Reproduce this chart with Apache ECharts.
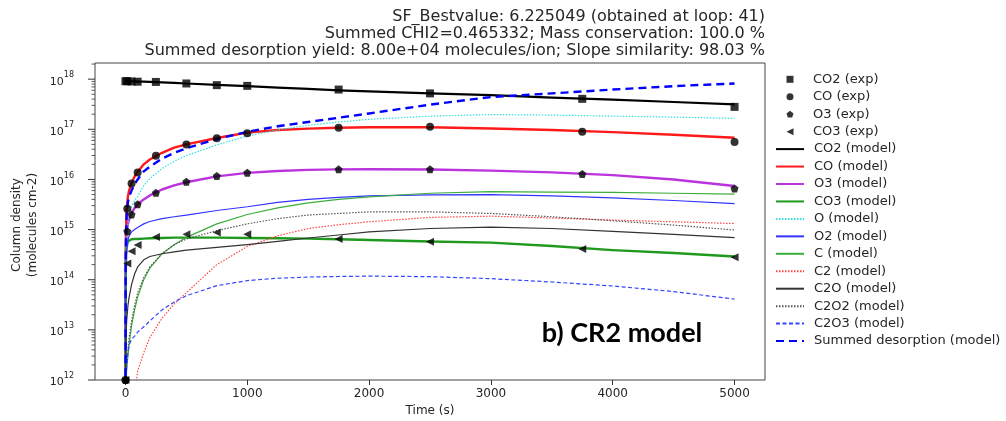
<!DOCTYPE html>
<html>
<head>
<meta charset="utf-8">
<script src="https://cdn.jsdelivr.net/npm/echarts@6/dist/echarts.min.js"></script>
<style>html,body{margin:0;padding:0;background:#fff}#c{width:1006px;height:421px}</style>
</head>
<body>
<div id="c"></div>
<script>
// ---------- data ----------
const titleLines = [
  'SF_Bestvalue: 6.225049 (obtained at loop: 41)',
  'Summed CHI2=0.465332; Mass conservation: 100.0 %',
  'Summed desorption yield: 8.00e+04 molecules/ion; Slope similarity: 98.03 %'
];
const xTicks = [0, 1000, 2000, 3000, 4000, 5000];
const yTicks = [1e12, 1e13, 1e14, 1e15, 1e16, 1e17, 1e18];

const timesExp = [0, 15, 50, 100, 250, 500, 750, 1000, 1750, 2500, 3750, 5000];
const co2Exp = [9.1e17, 9.1e17, 9.0e17, 8.9e17, 8.8e17, 8.2e17, 7.6e17, 7.35e17, 6.2e17, 5.2e17, 4.05e17, 2.8e17];
const coExp  = [1e12, 2.6e15, 8.3e15, 1.38e16, 2.96e16, 5.0e16, 6.6e16, 8.3e16, 1.07e17, 1.12e17, 8.9e16, 5.6e16];
const o3Exp  = [1e12, 9.3e14, 2.0e15, 3.2e15, 5.4e15, 9.0e15, 1.17e16, 1.36e16, 1.59e16, 1.59e16, 1.28e16, 6.6e15];
const co3Exp = [1e12, 2.1e14, 3.7e14, 4.9e14, 7.1e14, 8.1e14, 8.7e14, 8.1e14, 6.5e14, 5.7e14, 4.1e14, 2.8e14];

const timesModel = [0, 2, 5, 10, 20, 30, 50, 75, 100, 150, 200, 300, 400, 500, 750, 1000, 1250, 1500, 1750, 2000, 2500, 3000, 3500, 4000, 4500, 5000];
const co2Model = [9.2e17, 9.2e17, 9.2e17, 9.15e17, 9.1e17, 9.1e17, 9.05e17, 9.0e17, 8.95e17, 8.9e17, 8.8e17, 8.6e17, 8.4e17, 8.2e17, 7.7e17, 7.25e17, 6.8e17, 6.4e17, 6.0e17, 5.7e17, 5.2e17, 4.8e17, 4.3e17, 3.9e17, 3.5e17, 3.15e17];
const coModel  = [1e10, 4e14, 1.1e15, 2.5e15, 4.5e15, 6e15, 8.5e15, 1.15e16, 1.4e16, 2e16, 2.5e16, 3.4e16, 4.3e16, 5.0e16, 6.7e16, 8.6e16, 9.7e16, 1.03e17, 1.07e17, 1.1e17, 1.1e17, 1.04e17, 9.7e16, 8.8e16, 7.8e16, 6.8e16];
const o3Model  = [1e10, 1.5e14, 4e14, 8.5e14, 1.3e15, 1.6e15, 2.1e15, 2.7e15, 3.2e15, 4e15, 4.8e15, 6.3e15, 7.6e15, 8.8e15, 1.15e16, 1.35e16, 1.47e16, 1.55e16, 1.59e16, 1.6e16, 1.58e16, 1.5e16, 1.38e16, 1.22e16, 1e16, 7.4e15];
const co3Model = [1e10, 1e14, 3e14, 4.5e14, 5.8e14, 6.2e14, 6.4e14, 6.5e14, 6.5e14, 6.6e14, 6.7e14, 6.8e14, 6.9e14, 6.9e14, 6.9e14, 6.8e14, 6.7e14, 6.6e14, 6.4e14, 6.2e14, 5.8e14, 5.5e14, 4.7e14, 3.9e14, 3.4e14, 2.9e14];
const oModel   = [1e10, 5e13, 2.5e14, 6e14, 1.2e15, 1.8e15, 2.8e15, 3.8e15, 4.6e15, 7.5e15, 1.05e16, 1.65e16, 2.3e16, 3.0e16, 4.9e16, 7.3e16, 9.7e16, 1.2e17, 1.4e17, 1.58e17, 1.83e17, 1.97e17, 1.92e17, 1.83e17, 1.75e17, 1.65e17];
const o2Model  = [1e10, 1e14, 2.5e14, 4e14, 6e14, 7.5e14, 9e14, 1e15, 1.1e15, 1.3e15, 1.45e15, 1.65e15, 1.8e15, 1.95e15, 2.4e15, 2.85e15, 3.5e15, 4e15, 4.4e15, 4.7e15, 4.9e15, 5e15, 4.7e15, 4.3e15, 3.8e15, 3.3e15];
const cModel   = [1e10, 1e12, 1.2e12, 1.6e12, 3e12, 5e12, 1.2e13, 2.5e13, 4.5e13, 1e14, 1.7e14, 3.3e14, 5e14, 7e14, 1.3e15, 2e15, 2.7e15, 3.4e15, 4e15, 4.5e15, 5.3e15, 5.7e15, 5.6e15, 5.5e15, 5.3e15, 5.1e15];
const c2Model  = [1e10, 1e10, 1e10, 1e10, 1e10, 5e10, 2e11, 5e11, 1.5e12, 3.5e12, 7e12, 1.7e13, 3.3e13, 5.5e13, 2e14, 4.6e14, 7.5e14, 1.05e15, 1.25e15, 1.43e15, 1.75e15, 1.85e15, 1.7e15, 1.55e15, 1.43e15, 1.32e15];
const c2oModel = [1e10, 3e12, 8e12, 1.5e13, 3e13, 4.5e13, 8e13, 1.3e14, 1.8e14, 2.5e14, 2.9e14, 3.3e14, 3.6e14, 3.9e14, 4.4e14, 5e14, 5.8e14, 6.8e14, 7.8e14, 9e14, 1.05e15, 1.12e15, 1.05e15, 9.2e14, 8e14, 6.9e14];
const c2o2Model = [1e10, 1e12, 1.5e12, 2e12, 4e12, 7e12, 1.5e13, 3e13, 5.5e13, 1.1e14, 1.8e14, 3.3e14, 5e14, 6.5e14, 9.5e14, 1.3e15, 1.65e15, 1.95e15, 2.1e15, 2.25e15, 2.25e15, 2.1e15, 1.8e15, 1.5e15, 1.23e15, 9.8e14];
const c2o3Model = [1e10, 2e11, 8e11, 1.8e12, 3.5e12, 5e12, 6.5e12, 7.5e12, 9e12, 1.15e13, 1.5e13, 2.5e13, 3.6e13, 4.8e13, 7.6e13, 9.6e13, 1.07e14, 1.13e14, 1.16e14, 1.18e14, 1.15e14, 1.05e14, 9e13, 7.5e13, 5.8e13, 4.1e13];
const summedModel = [1e10, 2e14, 8e14, 2e15, 3.5e15, 4.5e15, 6e15, 8e15, 1e16, 1.45e16, 1.8e16, 2.6e16, 3.4e16, 4.2e16, 6.4e16, 8.9e16, 1.15e17, 1.4e17, 1.7e17, 2.07e17, 3.1e17, 4.4e17, 5.2e17, 6.2e17, 7.25e17, 8.2e17];

// ---------- helpers ----------
const zip = (xs, ys) => xs.map((x, i) => [x, ys[i]]);
const FONT = 'DejaVu Sans';
const TXT = '#262626';
const pentagon = 'path://M0,-1 L0.951,-0.309 L0.588,0.809 L-0.588,0.809 L-0.951,-0.309 Z';
const triLeft = 'path://M0,0.5 L1,0 L1,1 Z';

const minorTicks = [];
for (let e = 12; e <= 18; e++) for (let m = 2; m <= 9; m++) { const v = m * Math.pow(10, e); if (v < 2.1e18) minorTicks.push(v); }

function expSeries(name, data, symbol, size) {
  return { name, type: 'scatter', data: zip(timesExp, data), symbol, symbolSize: size,
    itemStyle: { color: '#000' }, z: 10, clip: false };
}
function modelSeries(name, data, color, width, type) {
  return { name, type: 'line', data: zip(timesModel, data), showSymbol: false, symbol: 'none', smooth: false,
    lineStyle: { color, width, type: type || 'solid', cap: 'butt', join: 'round' }, itemStyle: { color }, z: 5, clip: true };
}

const expNames = ['CO2 (exp)', 'CO (exp)', 'O3 (exp)', 'CO3 (exp)'];
const modelNames = ['CO2 (model)', 'CO (model)', 'O3 (model)', 'CO3 (model)', 'O (model)', 'O2 (model)', 'C (model)', 'C2 (model)', 'C2O (model)', 'C2O2 (model)', 'C2O3 (model)', 'Summed desorption (model)'];

const series = [
  modelSeries(modelNames[0], co2Model, '#000000', 2.2),
  modelSeries(modelNames[1], coModel, '#ff1a1a', 2.4),
  modelSeries(modelNames[2], o3Model, '#bb33dd', 2.4),
  modelSeries(modelNames[3], co3Model, '#1f9a1f', 2.4),
  modelSeries(modelNames[4], oModel, '#33dddd', 1.2, [1.5, 1.5]),
  modelSeries(modelNames[5], o2Model, '#3333ff', 1.2),
  modelSeries(modelNames[6], cModel, '#3cae3c', 1.2),
  modelSeries(modelNames[7], c2Model, '#ff4444', 1.2, [1.5, 1.5]),
  modelSeries(modelNames[8], c2oModel, '#333333', 1.2),
  modelSeries(modelNames[9], c2o2Model, '#555555', 1.2, [1.5, 1.5]),
  modelSeries(modelNames[10], c2o3Model, '#3344ff', 1.2, [4, 2.5]),
  modelSeries(modelNames[11], summedModel, '#0000ff', 2.4, [8, 5]),
  expSeries(expNames[0], co2Exp, 'rect', 8),
  expSeries(expNames[1], coExp, 'circle', 8),
  expSeries(expNames[2], o3Exp, pentagon, 8),
  expSeries(expNames[3], co3Exp, triLeft, 8),
  {
    name: 'yticks', type: 'custom', silent: true, clip: false, z: 20,
    data: yTicks.map(v => [0, v, 7]).concat(minorTicks.map(v => [0, v, 3.5])),
    renderItem: (params, api) => {
      const y = api.coord([0, api.value(1)])[1];
      const x = params.coordSys.x;
      const len = api.value(2);
      return { type: 'line', shape: { x1: x - len, y1: y, x2: x, y2: y }, style: { stroke: '#333', lineWidth: len > 5 ? 1 : 0.8 } };
    }
  }
];

const chart = echarts.init(document.getElementById('c'), null, { renderer: 'canvas' });
chart.setOption({
  animation: false,
  backgroundColor: '#fff',
  grid: { left: 95, right: 241, top: 63, bottom: 41, show: true, borderColor: '#444', borderWidth: 1, backgroundColor: 'transparent', containLabel: false },
  legend: [
    { data: expNames, orient: 'vertical', left: 786.5, top: 72.3, padding: 0, itemWidth: 7, itemHeight: 7, itemGap: 3.45, selectedMode: false,
      textStyle: { fontFamily: FONT, fontSize: 13, color: TXT, lineHeight: 14, padding: [0, 0, 0, 14.5] } },
    { data: modelNames, orient: 'vertical', left: 775, top: 142.1, padding: 0, itemWidth: 28, itemHeight: 14, itemGap: 3.45, selectedMode: false,
      itemStyle: { opacity: 0 },
      textStyle: { fontFamily: FONT, fontSize: 13, color: TXT, lineHeight: 14, padding: [0, 0, 0, 5] } }
  ],
  xAxis: {
    type: 'value', min: -250, max: 5250,
    axisLine: { show: false }, splitLine: { show: false },
    axisTick: { show: true, length: 5, lineStyle: { color: '#333' }, customValues: xTicks },
    axisLabel: { customValues: xTicks, formatter: v => String(v), fontFamily: FONT, fontSize: 12, color: TXT, margin: 8 }
  },
  yAxis: {
    type: 'log', logBase: 10, min: 1e12, max: 2.1e18,
    axisLine: { show: false }, splitLine: { show: false }, axisTick: { show: false }, minorTick: { show: false },
    axisLabel: {
      margin: 21, fontFamily: FONT, color: TXT,
      formatter: v => {
        const l = Math.log10(v); const e = Math.round(l);
        if (Math.abs(l - e) > 1e-6) return '';
        return '{b|10}{s|' + e + '}';
      },
      rich: {
        b: { fontFamily: FONT, fontSize: 11, color: TXT, verticalAlign: 'bottom', lineHeight: 16 },
        s: { fontFamily: FONT, fontSize: 8, color: TXT, verticalAlign: 'top', lineHeight: 16, padding: [0, 0, 6, 0] }
      }
    }
  },
  graphic: [
    { type: 'text', x: 765, y: 8.5, style: { text: titleLines.join('\n'), fontFamily: FONT, fontSize: 16, lineHeight: 17, fill: TXT, align: 'right', verticalAlign: 'top' } },
    { type: 'text', x: 430, y: 411, style: { text: 'Time (s)', fontFamily: FONT, fontSize: 12, fill: TXT, align: 'center', verticalAlign: 'middle' } },
    { type: 'text', x: 25, y: 225, rotation: Math.PI / 2, style: { text: 'Column density\n(molecules cm-2)', fontFamily: FONT, fontSize: 12, lineHeight: 16, fill: TXT, align: 'center', verticalAlign: 'middle' } },
    { type: 'text', x: 622, y: 333, style: { text: 'b) CR2 model', fontFamily: 'Lato', fontWeight: 'bold', fontSize: 27, fill: '#000', align: 'center', verticalAlign: 'middle' } }
  ],
  series
});
</script>
</body>
</html>
